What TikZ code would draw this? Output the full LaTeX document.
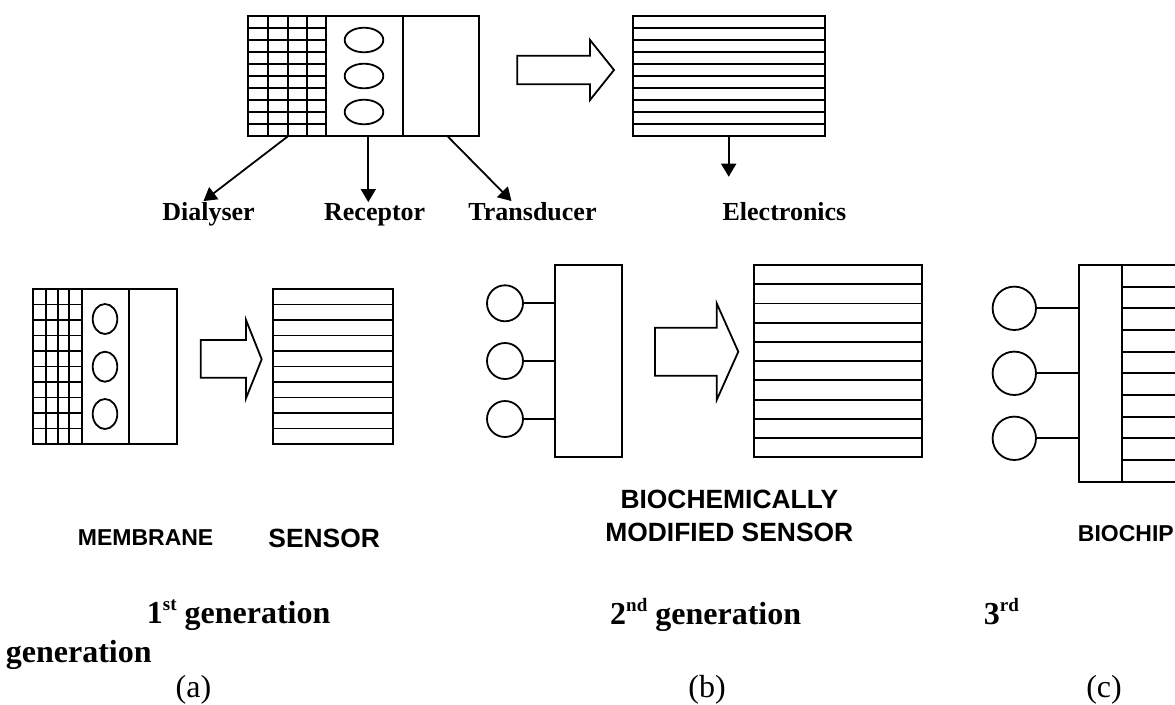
\documentclass[tikz,border=0pt]{standalone}
\usepackage{fontspec}
\setmainfont{Liberation Serif}
\setsansfont{Liberation Sans}
\usetikzlibrary{arrows.meta}
\newcommand{\ordsup}[1]{\raisebox{0.40em}{\fontsize{19}{20}\selectfont #1}}

\begin{document}
\begin{tikzpicture}[x=1pt, y=-1pt, line width=1.8pt,
  every node/.style={inner sep=0pt},
  partlbl/.style={font=\fontsize{26}{30}\selectfont\bfseries, anchor=base},
  capbig/.style={font=\sffamily\bfseries\fontsize{26.4}{30}\selectfont, anchor=base west},
  capsmall/.style={capbig, font=\sffamily\bfseries\fontsize{23}{28}\selectfont},
  gen/.style={font=\fontsize{32}{36}\selectfont\bfseries, anchor=base west},
  fig/.style={font=\fontsize{32}{36}\selectfont, anchor=base},
  bead/.style={draw, circle, line width=1.8pt},
  plate/.style={draw, rectangle, line width=1.8pt},
  pointer/.style={-{Triangle[length=13pt,width=15pt]}}]
  \useasboundingbox (0,0) rectangle (1175,704);

  \draw (248.3,15.7) rectangle (479.3,136);
  \foreach \gx in {268.3,287.7,306.7,326,402.7} \draw (\gx,15.7) -- (\gx,136);
  \foreach \k in {1,...,9} \draw (248.3,{15.7+12.03*\k}) -- (326,{15.7+12.03*\k});
  \foreach \ey in {40,76,112} \draw (364,\ey) ellipse [x radius=19.3pt, y radius=12.3pt];
  \draw (517.3,55.7) -- (590,55.7) -- (590,40) -- (614,70) -- (590,100) -- (590,84.3) -- (517.3,84.3) -- cycle;
  \draw (632.7,15.7) rectangle (825,136);
  \foreach \k in {1,...,9} \draw (632.7,{15.7+12.03*\k}) -- (825,{15.7+12.03*\k});

  \node[partlbl] (dial) at (208.5,220) {Dialyser};
  \node[partlbl] (recep) at (374.7,220) {Receptor};
  \node[partlbl] (trans) at (532.5,220) {Transducer};
  \node[partlbl, anchor=base west] (elec) at (721.7,220) {Electronics};
  \coordinate (dialSrc) at (288.3,136);
  \coordinate (recSrc) at (368.3,136);
  \coordinate (transSrc) at (447.3,136);
  \coordinate (elecSrc) at (728.7,136);
  \coordinate (elecTip) at (728.7,176.7);
  \draw[pointer] (dialSrc) -- ([xshift=-5pt]dial.north);
  \draw[pointer] (recSrc) -- (recSrc |- recep.north);
  \draw[pointer] (transSrc) -- ([xshift=-21pt]trans.north);
  \draw[pointer] (elecSrc) -- (elecTip);

  \draw (32.7,289) rectangle (176.7,444);
  \foreach \gx in {45.7,57.7,69.3,81.7,129} \draw (\gx,289) -- (\gx,444);
  \foreach \k in {1,...,9} \draw (32.7,{289+15.5*\k}) -- (81.7,{289+15.5*\k});
  \foreach \ey in {319,366.7,414} \draw (105,\ey) ellipse [x radius=12.3pt, y radius=15pt];
  \draw (200.7,340) -- (246,340) -- (246,320) -- (261.7,359.3) -- (246,398.3) -- (246,377.7) -- (200.7,377.7) -- cycle;
  \draw (272.7,289) rectangle (393.3,444);
  \foreach \k in {1,...,9} \draw (272.7,{289+15.5*\k}) -- (393.3,{289+15.5*\k});

  \node[plate, minimum width=67pt, minimum height=192.3pt] (bplate) at (588.8,361.15) {};
  \foreach \ey [count=\i] in {303.3,361,419} {
    \node[bead, minimum size=36pt] (bb\i) at (505,\ey) {};
    \draw (bb\i.east) -- (bb\i.east -| bplate.west);
  }
  \draw (655,327.7) -- (716.7,327.7) -- (716.7,303.3) -- (738.3,351.7) -- (716.7,400) -- (716.7,375.7) -- (655,375.7) -- cycle;
  \draw (754.3,265) rectangle (922,457.3);
  \foreach \k in {1,...,9} \draw (754.3,{265+19.23*\k}) -- (922,{265+19.23*\k});

  \node[plate, minimum width=43pt, minimum height=216.7pt] (cplate) at (1100.8,373.35) {};
  \foreach \ey [count=\i] in {308.3,373.3,438.3} {
    \node[bead, minimum size=43.4pt] (cb\i) at (1014.3,\ey) {};
    \draw (cb\i.east) -- (cb\i.east -| cplate.west);
  }
  \foreach \k in {0,...,10} \draw (1122.3,{265+21.67*\k}) -- (1176,{265+21.67*\k});

  \node[capsmall] (membr) at (77,545) {MEMBRANE};
  \node[capbig] (sens) at (267.5,547) {SENSOR};
  \node[capbig, anchor=base] (bioA) at (729.3,508) {BIOCHEMICALLY};
  \node[capbig, anchor=base] (bioB) at (729.3,541) {MODIFIED SENSOR};
  \node[capsmall] (chip) at (1077,541) {BIOCHIP};
  \node[gen] (genA) at (146,623) {1\ordsup{st} generation};
  \node[gen] (genB) at (609.3,624) {2\ordsup{nd} generation};
  \node[gen] (genC) at (983,624) {3\ordsup{rd}};
  \node[gen] (genCc) at (5,662) {generation};
  \node[fig] (figa) at (193.5,697) {(a)};
  \node[fig] (figb) at (707,697) {(b)};
  \node[fig] (figc) at (1104,697) {(c)};
\end{tikzpicture}
\end{document}
